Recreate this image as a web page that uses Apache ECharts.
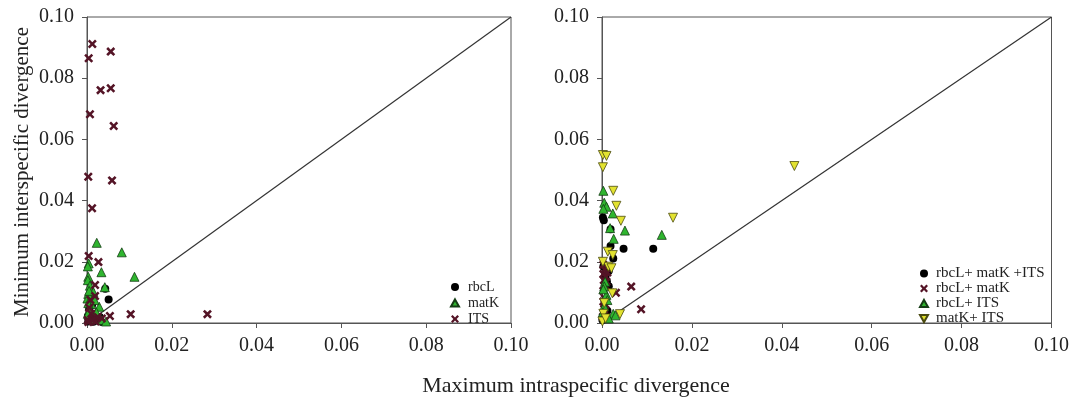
<!DOCTYPE html>
<html>
<head>
<meta charset="utf-8">
<script src="https://cdn.jsdelivr.net/npm/echarts@6/dist/echarts.min.js"></script>
<style>html,body{margin:0;padding:0;background:#fff}#c{width:1072px;height:399px}</style>
</head>
<body>
<div id="c"></div>
<script>
// ---- data ----
const xTicks = [0, 0.02, 0.04, 0.06, 0.08, 0.10];
const diagonal = [[0, 0], [0.1, 0.1]];
const leftNames = ['rbcL', 'matK', 'ITS'];
const rightNames = ['rbcL+ matK +ITS', 'rbcL+ matK', 'rbcL+ ITS', 'matK+ ITS'];

const rbcL = [[0.0051,0.0077],[0.0043,0.0112],[0.0003,0.0005],[0.0008,0.0012],[0.0015,0.0004],[0.0002,0.0022],[0.0025,0.0008],[0.0035,0.0003],[0.001,0.003],[0.0005,0.0045],[0.002,0.0015],[0.0012,0.006],[0.0006,0.0085],[0.003,0.002]];
const matK = [[0.0023,0.0262],[0.0082,0.0231],[0.0004,0.0195],[0.0002,0.0185],[0.0112,0.0151],[0.0034,0.0166],[0.0003,0.0151],[0.0002,0.014],[0.0042,0.0117],[0.0007,0.0122],[0.0015,0.0101],[0.0003,0.0095],[0.0001,0.008],[0.001,0.0062],[0.0029,0.0053],[0.0006,0.0045],[0.0002,0.003],[0.0035,0.001],[0.0014,0.002],[0.0022,0.0035],[0.0008,0.0012],[0.0045,0.0005],[0.0003,0.0065],[0.0018,0.0075],[0.0005,0.0105]];
const ITS = [[0.00125,0.0912],[0.0004,0.0865],[0.0056,0.0887],[0.0032,0.0761],[0.0056,0.0767],[0.0007,0.0682],[0.0063,0.0644],[0.0003,0.0478],[0.0059,0.0466],[0.0012,0.0375],[0.0004,0.0219],[0.0027,0.0199],[0.0019,0.0124],[0.0019,0.0088],[0.0054,0.0023],[0.0103,0.0029],[0.0284,0.0029],[0.0005,0.005],[0.001,0.003],[0.0002,0.001],[0.002,0.0005],[0.0008,0.0075],[0.0015,0.0015],[0.0003,0.0003],[0.0025,0.002],[0.0012,0.0008],[0.0035,0.0015]];

const rbcL_matK_ITS = [[0.0002,0.0345],[0.0004,0.0336],[0.0019,0.0306],[0.0019,0.0252],[0.0048,0.0243],[0.0114,0.0243],[0.0025,0.0211],[0.0015,0.017],[0.0011,0.0135],[0.0015,0.012],[0.0006,0.0067],[0.0001,0.001],[0.0008,0.0155],[0.0003,0.0185],[0.0012,0.004]];
const rbcL_matK = [[0.0065,0.0119],[0.0087,0.0045],[0.0031,0.0099],[0.0003,0.019],[0.0006,0.0175],[0.0003,0.016],[0.0008,0.015],[0.0004,0.014],[0.0008,0.012],[0.0003,0.0105],[0.0006,0.008],[0.0003,0.007],[0.0008,0.006],[0.0005,0.0045],[0.0002,0.002],[0.0012,0.0165],[0.001,0.0135]];
const rbcL_ITS = [[0.0003,0.0432],[0.0005,0.0393],[0.001,0.038],[0.0003,0.0373],[0.0024,0.0358],[0.0051,0.0302],[0.0133,0.0288],[0.0018,0.031],[0.0026,0.0275],[0.0007,0.0135],[0.0005,0.012],[0.001,0.0092],[0.0005,0.0055],[0.0002,0.0035],[0.0025,0.003],[0.003,0.0025],[0.0012,0.0075],[0.0003,0.011],[0.0015,0.0015]];
const matK_ITS = [[0.0002,0.0549],[0.001,0.0546],[0.0002,0.0509],[0.0025,0.0432],[0.0032,0.0383],[0.0042,0.0334],[0.0158,0.0344],[0.0428,0.0513],[0.0013,0.0233],[0.0024,0.0222],[0.0014,0.0184],[0.0021,0.0179],[0.0023,0.0097],[0.004,0.0029],[0.0003,0.003],[0.0001,0.0005],[0.0002,0.02],[0.0008,0.0015],[0.0005,0.0065]];

// ---- styles ----
const FONT = 'Liberation Serif';
const CROSS = 'path://M2,0 L5,3 L8,0 L10,2 L7,5 L10,8 L8,10 L5,7 L2,10 L0,8 L3,5 L0,2 Z';
const DOWN = 'path://M0,0 L10,0 L5,9 Z';
const UP = 'path://M5,0 L10,9 L0,9 Z';
const axisColor = '#555';

function xAxis(gi) {
  return {
    type: 'value', gridIndex: gi, min: 0, max: 0.1, interval: 0.02,
    axisLine: { show: true, lineStyle: { color: axisColor, width: 1 } },
    axisTick: { show: true, length: 5, lineStyle: { color: axisColor } },
    splitLine: { show: false },
    axisLabel: { fontFamily: FONT, fontSize: 20, color: '#222', margin: 13, formatter: v => v.toFixed(2) }
  };
}
function yAxis(gi) {
  return {
    type: 'value', gridIndex: gi, min: 0, max: 0.1, interval: 0.02,
    axisLine: { show: true, lineStyle: { color: axisColor, width: 1 } },
    axisTick: { show: true, length: 5, lineStyle: { color: axisColor } },
    splitLine: { show: false },
    axisLabel: { fontFamily: FONT, fontSize: 20, color: '#222', margin: 13, formatter: v => v.toFixed(2) }
  };
}
function sc(name, data, gi, symbol, size, color, border) {
  return {
    type: 'scatter', name, data, xAxisIndex: gi, yAxisIndex: gi,
    symbol, symbolSize: size, silent: true,
    itemStyle: { color, borderColor: border, borderWidth: border ? 0.8 : 0, opacity: 1 }
  };
}
function diag(gi) {
  return { type: 'line', data: diagonal, xAxisIndex: gi, yAxisIndex: gi, symbol: 'none', silent: true,
    lineStyle: { color: '#333', width: 1.2 }, z: 1 };
}

const GREEN = '#2fb52f', MAROON = '#541426', YELLOW = '#e2e230', BLACK = '#000';

const option = {
  animation: false,
  backgroundColor: '#fff',
  grid: [
    { left: 87, top: 17, width: 424, height: 306, show: true, borderColor: axisColor, borderWidth: 1, backgroundColor: 'transparent' },
    { left: 602, top: 17, width: 455, height: 306, show: true, borderColor: axisColor, borderWidth: 1, backgroundColor: 'transparent' }
  ],
  xAxis: [xAxis(0), xAxis(1)],
  yAxis: [yAxis(0), yAxis(1)],
  legend: [
    { data: leftNames, orient: 'vertical', left: 445, top: 274, itemWidth: 8, itemHeight: 8, itemGap: 0,
      textStyle: { fontFamily: FONT, fontSize: 14, color: '#222', lineHeight: 16, padding: [0, 0, 0, 4] }, selectedMode: false },
    { data: rightNames, orient: 'vertical', left: 914, top: 261, itemWidth: 8, itemHeight: 8, itemGap: 0,
      textStyle: { fontFamily: FONT, fontSize: 15, color: '#222', lineHeight: 14.5, padding: [0, 0, 0, 3] }, selectedMode: false }
  ],
  graphic: [
    { type: 'text', x: 576, y: 386, style: { text: 'Maximum intraspecific divergence', font: '22px "Liberation Serif"', fill: '#222', align: 'center', verticalAlign: 'middle' } },
    { type: 'text', rotation: Math.PI / 2, x: 22, y: 172, style: { text: 'Minimum interspecific divergence', font: '21px "Liberation Serif"', fill: '#222', align: 'center', verticalAlign: 'middle' } }
  ],
  series: [
    diag(0), diag(1),
    sc('rbcL', rbcL, 0, 'circle', 8, BLACK, null),
    sc('matK', matK, 0, UP, 9, GREEN, '#143d14'),
    sc('ITS', ITS, 0, CROSS, 9, MAROON, null),
    sc('rbcL+ matK +ITS', rbcL_matK_ITS, 1, 'circle', 8, BLACK, null),
    sc('rbcL+ matK', rbcL_matK, 1, CROSS, 9, MAROON, null),
    sc('rbcL+ ITS', rbcL_ITS, 1, UP, 9, GREEN, '#143d14'),
    sc('matK+ ITS', matK_ITS, 1, DOWN, 9, YELLOW, '#4a4a10')
  ]
};
const chart = echarts.init(document.getElementById('c'), null, { renderer: 'canvas' });
chart.setOption(option);
</script>
</body>
</html>
